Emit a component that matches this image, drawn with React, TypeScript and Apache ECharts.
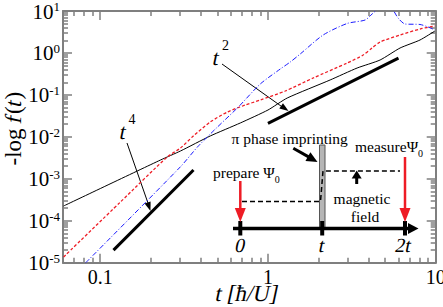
import React, { useEffect, useRef } from 'react';
import * as echarts from 'echarts';

// ---- data (t in units of hbar/U, f = -log f(t)) ----
const tBlack = [0.0605, 0.229, 0.301, 0.453, 0.684, 1.0, 1.303, 2.349, 3.401, 4.661, 6.131, 8.064, 9.9];
const fBlack = [2.25e-4, 2.81e-3, 4.6e-3, 0.0105, 0.0214, 0.0436, 0.0843, 0.227, 0.4375, 0.679, 1.312, 2.036, 3.34];

const tRed = [0.0605, 0.132, 0.251, 0.301, 0.359, 0.453, 0.573, 0.733, 0.9, 1.268, 1.861, 2.965, 3.693, 4.177, 4.661, 6.131, 8.064, 9.9];
const fRed = [1.37e-5, 2.8e-4, 3.31e-3, 5.42e-3, 0.0105, 0.0226, 0.0391, 0.0574, 0.0755, 0.124, 0.253, 0.575, 0.893, 1.312, 1.824, 2.68, 3.72, 4.39];

const tBlue = [0.082, 0.301, 0.38, 0.486, 0.666, 0.9, 1.184, 1.358, 1.557, 2.134, 2.965, 3.795, 4.177, 4.535, 4.992, 5.494, 5.965, 6.567, 8.064, 9.0, 9.9];
const fBlue = [1e-5, 1.94e-3, 5.73e-3, 0.01538, 0.0515, 0.182, 0.414, 0.608, 0.944, 2.68, 5.04, 6.1, 8.48, 11.2, 12.5, 11.2, 6.81, 4.9, 4.77, 4.16, 3.52];

// guide lines t^2 and t^4
const tGuide2 = [1.0, 6.0];
const fGuide2 = [0.021, 0.75];
const tGuide4 = [0.12, 0.36];
const fGuide4 = [2.0e-5, 1.62e-3];

// axes
const xMin = 0.06;
const xMax = 10;
const yMin = 1e-5;
const yMax = 10;
const xMajor = [0.1, 1, 10];
const xMinor = [0.07, 0.08, 0.09, 0.2, 0.3, 0.4, 0.5, 0.6, 0.7, 0.8, 0.9, 2, 3, 4, 5, 6, 7, 8, 9];
const yMajor = [1e-5, 1e-4, 1e-3, 1e-2, 1e-1, 1, 10];
const mantissas = [2, 3, 4, 5, 6, 7, 8, 9];
const yMinor = [1e-5, 1e-4, 1e-3, 1e-2, 1e-1, 1].flatMap((d) => mantissas.map((m) => Number((m * d).toPrecision(3))));

const SERIF = 'Liberation Serif';
const AXIS = '#7f7f7f';
const RED = '#ee1c25';
const SLANT = -0.21; // synthetic italic (no serif italic face available)

const zip = (a: number[], b: number[]) => a.map((v, i) => [v, b[i]]);

function xAxisDef(position: string, ticks: number[], len: number, labels: boolean, line: boolean) {
  return {
    type: 'log',
    logBase: 10,
    min: xMin,
    max: xMax,
    position,
    axisLine: { show: line, lineStyle: { color: AXIS, width: 2 } },
    axisTick: { show: true, inside: true, length: len, customValues: ticks, lineStyle: { color: AXIS, width: 1.5 } },
    axisLabel: labels
      ? {
          show: true,
          customValues: ticks,
          margin: 4,
          fontFamily: SERIF,
          fontSize: 20,
          color: '#000',
          formatter: (v: number) => String(Number(Number(v).toPrecision(3))),
        }
      : { show: false },
    splitLine: { show: false },
    minorTick: { show: false },
    minorSplitLine: { show: false },
  };
}

function yAxisDef(position: string, ticks: number[], len: number, labels: boolean, line: boolean) {
  return {
    type: 'log',
    logBase: 10,
    min: yMin,
    max: yMax,
    position,
    axisLine: { show: line, lineStyle: { color: AXIS, width: 2 } },
    axisTick: { show: true, inside: true, length: len, customValues: ticks, lineStyle: { color: AXIS, width: 1.5 } },
    axisLabel: labels
      ? {
          show: true,
          customValues: ticks,
          margin: 3,
          fontFamily: SERIF,
          formatter: (v: number) => '{b|10}{s|' + Math.round(Math.log10(v)) + '}',
          rich: {
            b: { fontFamily: SERIF, fontSize: 21, color: '#000', lineHeight: 22, verticalAlign: 'bottom' },
            s: { fontFamily: SERIF, fontSize: 13, color: '#000', lineHeight: 12, verticalAlign: 'top' },
          },
        }
      : { show: false },
    splitLine: { show: false },
    minorTick: { show: false },
    minorSplitLine: { show: false },
  };
}

function arrowHead(tip: number[], from: number[], len: number, half: number) {
  const dx = tip[0] - from[0];
  const dy = tip[1] - from[1];
  const L = Math.hypot(dx, dy);
  const ux = dx / L;
  const uy = dy / L;
  const bx = tip[0] - ux * len;
  const by = tip[1] - uy * len;
  return [tip, [bx - uy * half, by + ux * half], [bx + uy * half, by - ux * half]];
}

function txt(x: number, y: number, text: string, size: number, opts: any = {}) {
  const el: any = {
    type: 'text',
    x,
    y,
    z: 100,
    rotation: opts.rotation || 0,
    style: {
      text,
      fontFamily: SERIF,
      fontSize: size,
      fill: '#000',
      textAlign: opts.align || 'left',
      textVerticalAlign: 'middle',
    },
  };
  if (opts.italic) {
    el.skewX = SLANT;
    el.scaleX = 1;
    el.scaleY = 1;
  }
  return el;
}

// text with a base part and a small raised / lowered part
function richTxt(x: number, y: number, text: string, rich: any, align = 'left') {
  return {
    type: 'text',
    x,
    y,
    z: 100,
    style: { text, rich, fontFamily: SERIF, fontSize: 15, textAlign: align, textVerticalAlign: 'middle' },
  };
}

const R = (size: number, extra: any = {}) => ({ fontFamily: SERIF, fontSize: size, fill: '#000', ...extra });

export default function App() {
  const ref = useRef<HTMLDivElement>(null);
  useEffect(() => {
    if (!ref.current) return;
    const chart = echarts.init(ref.current, null, { renderer: 'svg' });

    const thin = { stroke: '#000', lineWidth: 1 };
    const rot = Math.PI / 2;
    const yT = 165.5; // start of the rotated y title (reads bottom to top)
    const graphics: any[] = [
      // y axis title: -log f(t)
      txt(13, yT, '-log ', 23, { rotation: rot }),
      txt(13, yT - 42.8, 'f', 23, { rotation: rot, italic: true }),
      txt(13, yT - 51.5, '(', 23, { rotation: rot }),
      txt(13, yT - 59.2, 't', 23, { rotation: rot, italic: true }),
      txt(13, yT - 66, ')', 23, { rotation: rot }),
      // x axis title
      txt(247, 293, 't [ħ/U]', 23, { italic: true, align: 'center' }),
      // t^2 label + arrow
      txt(213, 57.5, 't', 22, { italic: true }),
      txt(222, 45.5, '2', 14),
      { type: 'line', shape: { x1: 222, y1: 64, x2: 284, y2: 108.2 }, style: thin },
      { type: 'polygon', shape: { points: arrowHead([288.5, 111], [222, 64], 9, 3.2) }, style: { fill: '#000' } },
      // t^4 label + arrow
      txt(120, 131.5, 't', 22, { italic: true }),
      txt(128.5, 119, '4', 14),
      { type: 'line', shape: { x1: 127, y1: 143, x2: 149, y2: 206 }, style: thin },
      { type: 'polygon', shape: { points: arrowHead([150.5, 211], [127, 143], 9, 3.2) }, style: { fill: '#000' } },
      // inset: pulse rectangle
      { type: 'rect', shape: { x: 319.5, y: 145, width: 5.5, height: 83 }, style: { fill: '#b5b5b5', stroke: '#555', lineWidth: 1 } },
      // dashed magnetic field profile
      {
        type: 'polyline',
        shape: { points: [[242, 201.5], [320.5, 201.5], [323, 171], [400, 171]] },
        style: { stroke: '#000', lineWidth: 1.5, lineDash: [5, 3], fill: null },
      },
      // timeline
      { type: 'line', shape: { x1: 233, y1: 228.5, x2: 410, y2: 228.5 }, style: { stroke: '#000', lineWidth: 3.5 } },
      { type: 'polygon', shape: { points: [[408, 223], [418.5, 228.5], [408, 234]] }, style: { fill: '#000' } },
      { type: 'rect', shape: { x: 238.3, y: 221, width: 4, height: 14.5 }, style: { fill: '#000' } },
      { type: 'rect', shape: { x: 320.2, y: 221, width: 4, height: 14.5 }, style: { fill: '#000' } },
      { type: 'rect', shape: { x: 403, y: 221, width: 4, height: 14.5 }, style: { fill: '#000' } },
      txt(240.5, 245, '0', 20, { italic: true, align: 'center' }),
      txt(322, 245, 't', 20, { italic: true, align: 'center' }),
      txt(403.5, 245, '2t', 20, { italic: true, align: 'center' }),
      // red arrows
      { type: 'line', shape: { x1: 240.3, y1: 181, x2: 240.3, y2: 212 }, style: { stroke: RED, lineWidth: 2.5 } },
      { type: 'polygon', shape: { points: [[234.8, 208], [245.8, 208], [240.3, 222]] }, style: { fill: RED } },
      { type: 'line', shape: { x1: 405, y1: 157, x2: 405, y2: 212 }, style: { stroke: RED, lineWidth: 2.5 } },
      { type: 'polygon', shape: { points: [[399.5, 208], [410.5, 208], [405, 222]] }, style: { fill: RED } },
      // magnetic field arrow
      { type: 'line', shape: { x1: 356.7, y1: 184, x2: 356.7, y2: 176 }, style: { stroke: '#000', lineWidth: 3 } },
      { type: 'polygon', shape: { points: [[351.7, 178.5], [361.7, 178.5], [356.7, 170.5]] }, style: { fill: '#000' } },
      // pi phase imprinting arrow
      { type: 'line', shape: { x1: 293.3, y1: 148.3, x2: 309.5, y2: 157.4 }, style: { stroke: '#000', lineWidth: 3 } },
      { type: 'polygon', shape: { points: arrowHead([317.5, 162], [293.3, 148.3], 11, 5) }, style: { fill: '#000' } },
      // inset texts
      txt(231.5, 138.5, 'π phase imprinting', 15.5),
      richTxt(213, 174, '{a|prepare Ψ}{s|0}', {
        a: R(15.5, { lineHeight: 20, verticalAlign: 'top' }),
        s: R(10, { lineHeight: 10, verticalAlign: 'bottom' }),
      }),
      richTxt(355, 148, '{a|measureΨ}{s|0}', {
        a: R(15.5, { lineHeight: 20, verticalAlign: 'top' }),
        s: R(10, { lineHeight: 10, verticalAlign: 'bottom' }),
      }),
      txt(362, 198, 'magnetic', 15.5, { align: 'center' }),
      txt(365, 216.5, 'field', 15.5, { align: 'center' }),
    ];

    const option: any = {
      animation: false,
      backgroundColor: '#ffffff',
      textStyle: { fontFamily: SERIF },
      grid: { left: 63, top: 11, right: 7.3, bottom: 44.3, containLabel: false, outerBoundsMode: 'none' },
      xAxis: [
        xAxisDef('bottom', xMajor, 9, true, true),
        xAxisDef('bottom', xMinor, 5, false, false),
        xAxisDef('top', xMajor, 9, false, true),
        xAxisDef('top', xMinor, 5, false, false),
      ],
      yAxis: [
        yAxisDef('left', yMajor, 9, true, true),
        yAxisDef('left', yMinor, 5, false, false),
        yAxisDef('right', yMajor, 9, false, true),
        yAxisDef('right', yMinor, 5, false, false),
      ],
      series: [
        { type: 'line', name: 'black', data: zip(tBlack, fBlack), symbol: 'none', smooth: 0.2, lineStyle: { color: '#000', width: 1 } },
        { type: 'line', name: 'red', data: zip(tRed, fRed), symbol: 'none', smooth: 0.25, lineStyle: { color: RED, width: 1.3, type: [3, 2] } },
        { type: 'line', name: 'blue', data: zip(tBlue, fBlue), symbol: 'none', smooth: 0.25, lineStyle: { color: '#1a1aff', width: 1, type: [5, 2, 1, 2] } },
        { type: 'line', name: 't2', data: zip(tGuide2, fGuide2), symbol: 'none', lineStyle: { color: '#000', width: 3 } },
        { type: 'line', name: 't4', data: zip(tGuide4, fGuide4), symbol: 'none', lineStyle: { color: '#000', width: 3 } },
      ],
      graphic: { elements: graphics },
    };
    chart.setOption(option);
    return () => chart.dispose();
  }, []);
  return <div ref={ref} style={{ position: 'absolute', left: 0, top: 0, width: 443, height: 307 }} />;
}
